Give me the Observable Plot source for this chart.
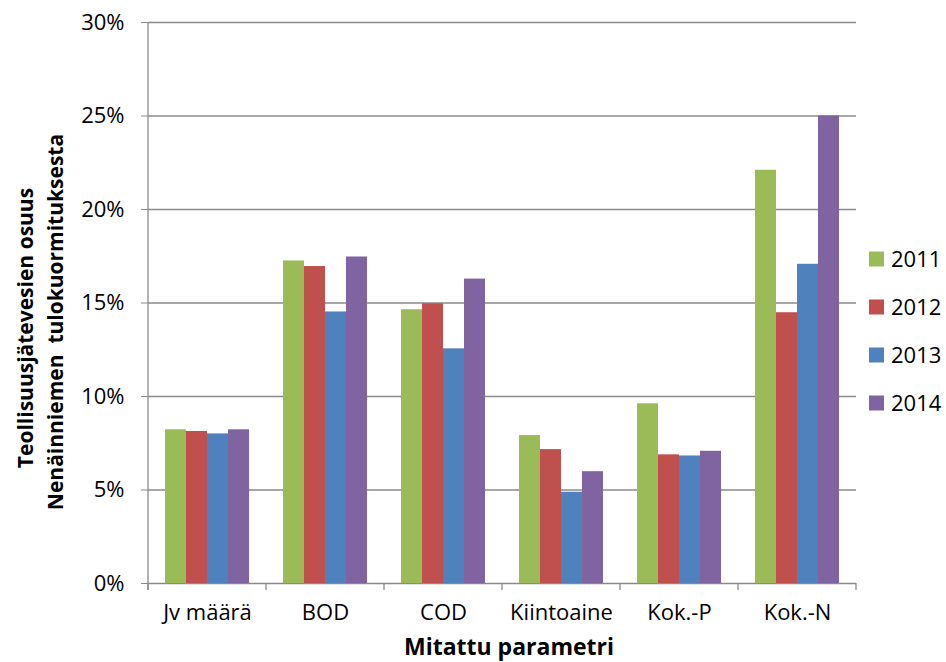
<!DOCTYPE html>
<html>
<head>
<meta charset="utf-8">
<script src="https://cdn.jsdelivr.net/npm/d3@7"></script>
<script src="https://cdn.jsdelivr.net/npm/@observablehq/plot@0.6"></script>
<style>
  html, body { margin: 0; padding: 0; background: #fff; }
  #chart { position: relative; width: 946px; height: 662px; }
</style>
</head>
<body>
<div id="chart"></div>
<script>
// Measured parameters (categories) and the years shown for each
const categories = ["Jv määrä", "BOD", "COD", "Kiintoaine", "Kok.-P", "Kok.-N"];
const years = ["2011", "2012", "2013", "2014"];
const colors = ["#9BBB59", "#C0504D", "#4F81BD", "#8064A2"];

// Share of industrial wastewater in the incoming load, per year (fraction)
const share2011 = [0.0822, 0.1725, 0.1464, 0.0791, 0.0961, 0.2210];
const share2012 = [0.0813, 0.1695, 0.1496, 0.0716, 0.0688, 0.1448];
const share2013 = [0.0800, 0.1452, 0.1255, 0.0488, 0.0682, 0.1707];
const share2014 = [0.0822, 0.1746, 0.1628, 0.0598, 0.0707, 0.2500];

const yTicks = [0, 0.05, 0.10, 0.15, 0.20, 0.25, 0.30];

const series = [share2011, share2012, share2013, share2014];
const data = [];
categories.forEach((c, i) => {
  years.forEach((yr, j) => data.push({category: c, year: yr, value: series[j][i]}));
});

const gridColor = "#8a8a8a";
const font = "'Open Sans', sans-serif";

const chart = Plot.plot({
  width: 946,
  height: 662,
  marginTop: 22,
  marginBottom: 79,
  marginLeft: 148,
  marginRight: 90,
  style: {fontFamily: font, fontSize: "22px", color: "#000", background: "#fff"},
  fx: {domain: categories, padding: 0, label: null},
  x: {domain: years, paddingInner: 0, paddingOuter: 0.78, axis: null},
  y: {domain: [0, 0.30], label: null},
  color: {domain: years, range: colors},
  marks: [
    Plot.ruleY(yTicks, {stroke: gridColor, strokeWidth: 1.3}),
    Plot.barY(data, {fx: "category", x: "year", y: "value", fill: "year"}),
    Plot.axisY({
      ticks: yTicks,
      tickFormat: d3.format(".0%"),
      tickSize: 7,
      tickPadding: 17,
      stroke: gridColor,
      label: null
    }),
    Plot.axisFx({anchor: "bottom", tickSize: 0, tickPadding: 21, label: null})
  ]
});

document.getElementById("chart").appendChild(chart);

// Axis line, category boundary ticks, titles and legend drawn from the plot's scales
const svg = d3.select(chart);
const fx = chart.scale("fx");
const y = chart.scale("y");
const y0 = y.apply(0);
const yTop = y.apply(0.30);
const left = fx.apply(categories[0]);
const bounds = categories.map(c => fx.apply(c)).concat([fx.apply(categories[categories.length - 1]) + fx.bandwidth]);

const deco = svg.append("g").attr("stroke", gridColor).attr("stroke-width", 1.3);
deco.append("line").attr("x1", left).attr("x2", left).attr("y1", yTop).attr("y2", y0 + 7);
bounds.forEach(b => deco.append("line").attr("x1", b).attr("x2", b).attr("y1", y0).attr("y2", y0 + 7));

const right = bounds[bounds.length - 1];

svg.append("text")
  .attr("x", (left + right) / 2 + 7)
  .attr("y", 655)
  .attr("text-anchor", "middle")
  .attr("font-family", font)
  .attr("font-weight", "bold")
  .attr("font-size", 23)
  .text("Mitattu parametri");

const yTitle = svg.append("text")
  .attr("transform", "rotate(-90)")
  .attr("text-anchor", "middle")
  .attr("font-family", font)
  .attr("font-weight", "bold")
  .attr("font-size", 21);
yTitle.append("tspan").attr("x", -328).attr("y", 33).text("Teollisuusjätevesien osuus");
yTitle.append("tspan").attr("x", -322).attr("y", 63).style("white-space", "pre").text("Nenäinniemen  tulokuormituksesta");

const legend = svg.append("g")
  .attr("font-family", font)
  .attr("font-size", 22)
  .attr("text-anchor", "start");
years.forEach((yr, i) => {
  const cy = 259 + i * 48;
  legend.append("rect").attr("x", 869).attr("y", cy - 7.5).attr("width", 15).attr("height", 15).attr("fill", colors[i]);
  legend.append("text").attr("x", 891).attr("y", cy).attr("dy", "0.35em").text(yr);
});
</script>
</body>
</html>
